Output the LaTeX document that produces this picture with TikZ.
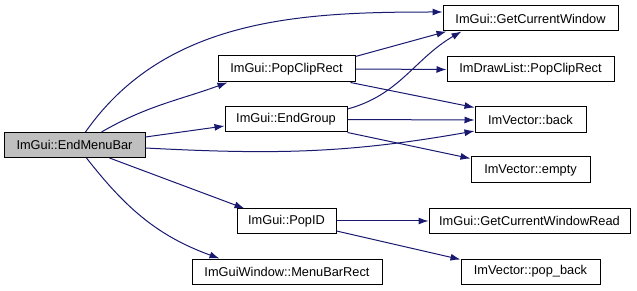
\documentclass[tikz,border=0pt]{standalone}
\usepackage{fontspec}
\setmainfont{Liberation Sans}
\usetikzlibrary{arrows.meta}

\definecolor{edgeblue}{HTML}{191970}
\definecolor{rootgray}{HTML}{BFBFBF}

\tikzset{
  fnbox/.style={draw=black, line width=1pt, minimum height=25pt, inner sep=0pt,
    font=\fontsize{12.8}{14}\selectfont},
  rootbox/.style={fnbox, fill=rootgray},
  call/.style={draw=edgeblue, line width=1pt, -{Latex[length=10pt,width=7pt]}},
}

\begin{document}
\begin{tikzpicture}[x=1pt,y=-1pt]
    \useasboundingbox (0,0) rectangle (637,291);

    % callers and callees, left to right
    \node[rootbox, minimum width=141pt] (bar) at (74.5,145) {ImGui::EndMenuBar};
    \node[fnbox, minimum width=137pt, minimum height=26pt] (popclip) at (286.5,69) {ImGui::PopClipRect};
    \node[fnbox, minimum width=122pt] (endgroup) at (286,119.5) {ImGui::EndGroup};
    \node[fnbox, minimum width=99pt, minimum height=24pt] (popid) at (286.5,221) {ImGui::PopID};
    \node[fnbox, minimum width=190pt] (menubar) at (287,271.5) {ImGuiWindow::MenuBarRect};

    \node[fnbox, minimum width=175pt] (getwin) at (530.5,18.5) {ImGui::GetCurrentWindow};
    \node[fnbox, minimum width=167pt] (dlpop) at (530.5,69.5) {ImDrawList::PopClipRect};
    \node[fnbox, minimum width=111pt, minimum height=26pt] (back) at (530.5,120) {ImVector::back};
    \node[fnbox, minimum width=119pt, minimum height=26pt] (empty) at (530.5,170) {ImVector::empty};
    \node[fnbox, minimum width=201pt, minimum height=24pt] (winread) at (529.5,221) {ImGui::GetCurrentWindowRead};
    \node[fnbox, minimum width=139pt] (popback) at (530.5,271.5) {ImVector::pop\_back};

    % calls out of EndMenuBar
    \draw[call] ([xshift=82pt]bar.north west) to[out=55,in=180,looseness=0.95] ([yshift=6.5pt]getwin.west);
    \draw[call] ([xshift=98pt]bar.north west) to[out=30,in=200] ([xshift=10pt]popclip.south west);
    \draw[call] ([yshift=8pt]bar.east) to ([yshift=-6.5pt]endgroup.west);
    \draw[call] ([yshift=-3pt]bar.east) to[out=-3,in=190] ([yshift=-11pt]back.west);
    \draw[call] ([xshift=106pt]bar.south west) to ([xshift=8pt]popid.north west);
    \draw[call] ([xshift=83pt]bar.south west) to[out=-52,in=160] ([xshift=28pt]menubar.north west);

    % second level
    \draw[call] ([yshift=-1pt]popclip.north east) to ([xshift=4pt]getwin.south west);
    \draw[call] (popclip.east) to (dlpop.west);
    \draw[call] ([xshift=-5pt]popclip.south east) to ([yshift=-1pt]back.north west);
    \draw[call] ([yshift=10.5pt]endgroup.east) to[out=15,in=210] ([xshift=19pt]getwin.south west);
    \draw[call] (endgroup.east) to (back.west);
    \draw[call] (endgroup.south east) to ([yshift=-2pt]empty.north west);
    \draw[call] (popid.east) to (winread.west);
    \draw[call] ([yshift=-10pt]popid.east) to ([yshift=-1pt]popback.north west);
\end{tikzpicture}
\end{document}
